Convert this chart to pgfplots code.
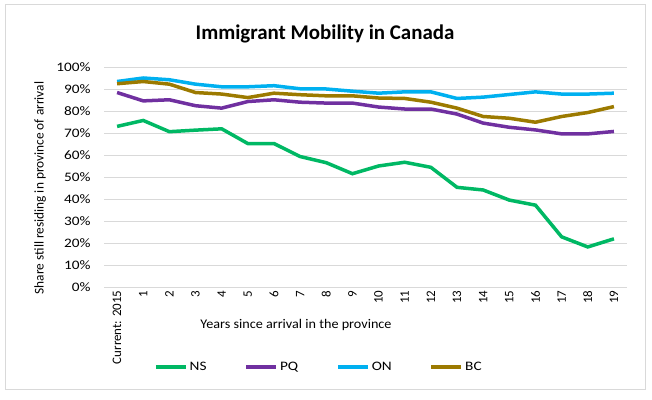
\documentclass[border=0pt]{standalone}
\usepackage{pgfplots}
\usepackage{pgfplotstable}
\pgfplotsset{compat=1.18}
\usepackage{fontspec}
\setmainfont{Carlito}
\newfontfamily\widefont[FakeStretch=1.18]{Carlito}
\newfontfamily\medfont[FakeStretch=1.07]{Carlito}
\definecolor{cNS}{RGB}{0,184,100}
\definecolor{cPQ}{RGB}{112,48,160}
\definecolor{cON}{RGB}{0,176,240}
\definecolor{cBC}{RGB}{156,122,0}
\pgfplotstableread{
yr NS PQ ON BC
0 73.0 88.4 93.4 92.4
1 75.7 84.6 95.0 93.4
2 70.6 85.1 94.2 92.2
3 71.3 82.4 92.2 88.4
4 71.9 81.3 91.0 87.7
5 65.2 84.3 91.0 86.1
6 65.2 85.1 91.5 88.1
7 59.3 84.0 90.1 87.4
8 56.5 83.6 90.0 86.9
9 51.5 83.6 89.0 86.9
10 55.0 81.8 88.1 85.9
11 56.7 80.9 88.7 85.7
12 54.4 80.9 88.7 84.0
13 45.3 78.6 85.7 81.3
14 44.1 74.5 86.3 77.5
15 39.5 72.6 87.5 76.7
16 37.2 71.4 88.7 74.9
17 22.8 69.6 87.7 77.5
18 18.2 69.6 87.7 79.3
19 21.9 70.7 88.1 82.0
}\datatable
\begin{document}
\begin{tikzpicture}[x=1bp,y=1bp]
\path[use as bounding box] (0,0) rectangle (652,399);
\draw[gray!30, line width=0.8bp] (5,10) rectangle (645,395);
\begin{axis}[
  at={(104bp,112bp)}, anchor=south west,
  scale only axis, width=523bp, height=220bp,
  xmin=-0.5, xmax=19.5, ymin=0, ymax=100,
  xtick={0,...,19},
  xticklabels={{Current: 2015},1,2,3,4,5,6,7,8,9,10,11,12,13,14,15,16,17,18,19},
  ytick={0,10,...,100},
  yticklabel={\pgfmathprintnumber{\tick}\%},
  /pgf/number format/assume math mode=true,
  xticklabel style={rotate=90, anchor=east, font=\fontsize{13}{15}\selectfont},
  yticklabel style={font=\widefont\fontsize{13}{15}\selectfont, xshift=-10bp},
  ymajorgrids, grid style={gray!30, line width=0.7bp},
  axis line style={draw=none}, major tick length=0pt,
  xlabel={Years since arrival in the province},
  xlabel style={at={(axis description cs:0.367,-0.173)}, anchor=center, font=\medfont\fontsize{13.3}{15}\selectfont},
  ylabel={Share still residing in province of arrival},
  ylabel style={at={(axis description cs:-0.122,0.45)}, anchor=center, rotate=0, font=\fontsize{13.4}{15}\selectfont},
  title={Immigrant Mobility in Canada},
  title style={at={(axis description cs:0.4226,1.125)}, anchor=center, font=\bfseries\fontsize{21}{24}\selectfont},
  legend columns=4,
  legend style={at={(axis description cs:0.411,-0.364)}, anchor=center, draw=none, fill=none,
    font=\widefont\fontsize{13}{15}\selectfont,
    /tikz/every even column/.append style={column sep=36bp}},
  legend image code/.code={\draw[#1, line width=3.5bp] (0bp,0bp) -- (30bp,0bp);},
]
\addplot[cNS, line width=3.5bp] table[x=yr, y=NS] {\datatable};
\addlegendentry{NS}
\addplot[cPQ, line width=3.5bp] table[x=yr, y=PQ] {\datatable};
\addlegendentry{PQ}
\addplot[cON, line width=3.5bp] table[x=yr, y=ON] {\datatable};
\addlegendentry{ON}
\addplot[cBC, line width=3.5bp] table[x=yr, y=BC] {\datatable};
\addlegendentry{BC}
\end{axis}
\end{tikzpicture}
\end{document}
